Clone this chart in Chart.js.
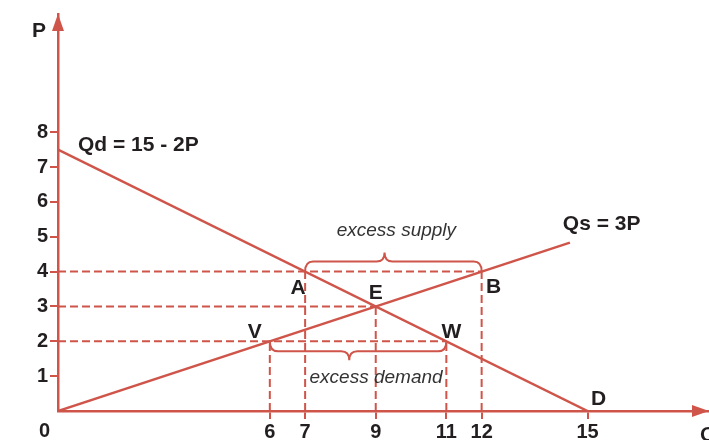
<!DOCTYPE html>
<html lang="en">
<head>
    <meta charset="UTF-8">
    <title>Supply and Demand</title>
    <script src="https://cdn.jsdelivr.net/npm/chart.js@4.4.1/dist/chart.umd.min.js"></script>
    <style>
        html, body {
            margin: 0;
            padding: 0;
            background: #fff;
        }
        #box {
            width: 709px;
            height: 440px;
        }
    </style>
</head>
<body>
    <div id="box"><canvas id="graphCanvas"></canvas></div>
    <script>
        // curves
        const demandQ = [0, 15];
        const demandP = [7.5, 0];
        const supplyQ = [0, 14.5];
        const supplyP = [0, 4.83];

        // dashed guides
        const hGuideP = [4, 3, 2];
        const hGuideQ = [12, 9, 11];
        const vGuideQ = [6, 7, 9, 11, 12];
        const vGuideP = [2, 4, 3, 2, 4];

        // point names
        const pointNames = ['A', 'B', 'E', 'V', 'W', 'D'];
        const pointQ = [7, 12, 9, 6, 11, 15];
        const pointP = [4, 4, 3, 2, 2, 0];

        // braces
        const braceText = ['excess supply', 'excess demand'];
        const braceFrom = [7, 6];
        const braceTo = [12, 11];
        const braceP = [4, 2];

        const xTicks = [6, 7, 9, 11, 12, 15];
        const yTicks = [1, 2, 3, 4, 5, 6, 7, 8];
        const demandLabel = 'Qd = 15 - 2P';
        const supplyLabel = 'Qs = 3P';

        const RED = '#cf554a';
        const INK = '#231f20';

        function pts(xs, ys) {
            return xs.map((x, i) => ({ x: x, y: ys[i] }));
        }

        const datasets = [];
        datasets.push({ data: pts(demandQ, demandP), borderColor: RED, borderWidth: 2.5 });
        datasets.push({ data: pts(supplyQ, supplyP), borderColor: RED, borderWidth: 2.5 });
        hGuideP.forEach((p, i) => {
            datasets.push({ data: [{ x: 0, y: p }, { x: hGuideQ[i], y: p }], borderColor: RED, borderWidth: 2, borderDash: [8, 4] });
        });
        vGuideQ.forEach((q, i) => {
            datasets.push({ data: [{ x: q, y: 0 }, { x: q, y: vGuideP[i] }], borderColor: RED, borderWidth: 2, borderDash: [8, 4] });
        });
        datasets.forEach(d => { d.showLine = true; d.pointRadius = 0; d.fill = false; });

        const labelOffsets = {
            A: [-7, 22], B: [12, 21], E: [0, -7], V: [-15, -3], W: [5, -3], D: [11, -6]
        };

        function brace(ctx, x1, x2, yBase, dir) {
            const yLine = yBase + dir * 10;
            const yTip = yLine + dir * 9;
            const xm = x1 + (x2 - x1) * 0.45;
            const r = 8;
            ctx.beginPath();
            ctx.moveTo(x1, yBase);
            ctx.quadraticCurveTo(x1, yLine, x1 + r, yLine);
            ctx.lineTo(xm - r, yLine);
            ctx.quadraticCurveTo(xm, yLine, xm, yTip);
            ctx.quadraticCurveTo(xm, yLine, xm + r, yLine);
            ctx.lineTo(x2 - r, yLine);
            ctx.quadraticCurveTo(x2, yLine, x2, yBase);
            ctx.stroke();
        }

        const extras = {
            id: 'extras',
            afterDraw(chart) {
                const ctx = chart.ctx;
                const xs = chart.scales.x, ys = chart.scales.y;
                const ox = xs.getPixelForValue(0), oy = ys.getPixelForValue(0);
                const top = chart.chartArea.top, right = chart.chartArea.right;
                ctx.save();

                // arrowheads
                ctx.fillStyle = RED;
                ctx.beginPath();
                ctx.moveTo(ox, top);
                ctx.lineTo(ox - 6, top + 17);
                ctx.lineTo(ox + 6, top + 17);
                ctx.closePath();
                ctx.fill();
                ctx.beginPath();
                ctx.moveTo(right, oy);
                ctx.lineTo(right - 17, oy - 6);
                ctx.lineTo(right - 17, oy + 6);
                ctx.closePath();
                ctx.fill();

                // braces
                ctx.strokeStyle = RED;
                ctx.lineWidth = 2;
                braceText.forEach((t, i) => {
                    const x1 = xs.getPixelForValue(braceFrom[i]);
                    const x2 = xs.getPixelForValue(braceTo[i]);
                    const yb = ys.getPixelForValue(braceP[i]);
                    const dir = i === 0 ? -1 : 1;
                    brace(ctx, x1, x2, yb, dir);
                    ctx.fillStyle = '#333';
                    ctx.font = 'italic 19px "Liberation Sans", Arial, sans-serif';
                    ctx.textAlign = 'center';
                    ctx.textBaseline = 'alphabetic';
                    const cx = (x1 + x2) / 2;
                    if (dir < 0) ctx.fillText(t, cx + 3, yb - 36);
                    else ctx.fillText(t, cx + 18, yb + 42);
                });

                // point names
                ctx.fillStyle = INK;
                ctx.font = 'bold 21px "Liberation Sans", Arial, sans-serif';
                ctx.textAlign = 'center';
                pointNames.forEach((n, i) => {
                    const off = labelOffsets[n];
                    ctx.fillText(n, xs.getPixelForValue(pointQ[i]) + off[0], ys.getPixelForValue(pointP[i]) + off[1]);
                });

                // curve labels and axis names
                ctx.textAlign = 'left';
                ctx.fillText(demandLabel, ox + 20, ys.getPixelForValue(8) + 19);
                ctx.fillText(supplyLabel, xs.getPixelForValue(14.3), ys.getPixelForValue(5.2));
                ctx.fillText('P', ox - 26, top + 23);
                ctx.fillText('Q', right - 9, oy + 30);
                ctx.font = 'bold 20px "Liberation Sans", Arial, sans-serif';
                ctx.fillText('0', ox - 19, oy + 26);
                ctx.restore();
            }
        };

        const tickFont = { family: '"Liberation Sans", Arial, sans-serif', size: 20, weight: 'bold' };

        new Chart(document.getElementById('graphCanvas'), {
            type: 'scatter',
            data: { datasets: datasets },
            options: {
                responsive: true,
                maintainAspectRatio: false,
                animation: false,
                events: [],
                layout: { padding: { top: 10, right: 0, left: 0, bottom: 0 } },
                plugins: { legend: { display: false }, tooltip: { enabled: false } },
                scales: {
                    x: {
                        type: 'linear',
                        min: 0,
                        max: 18.44,
                        afterFit(s) { s.height = 29; },
                        afterBuildTicks(s) { s.ticks = xTicks.map(v => ({ value: v })); },
                        border: { color: RED, width: 2.5 },
                        grid: { drawOnChartArea: false, color: RED, lineWidth: 2, tickLength: 8 },
                        ticks: { color: INK, font: tickFont, padding: 1, autoSkip: false, maxRotation: 0 }
                    },
                    y: {
                        type: 'linear',
                        min: 0,
                        max: 11.39,
                        afterFit(s) { s.width = 58; },
                        afterBuildTicks(s) { s.ticks = yTicks.map(v => ({ value: v })); },
                        border: { color: RED, width: 2.5 },
                        grid: { drawOnChartArea: false, color: RED, lineWidth: 2, tickLength: 8 },
                        ticks: { color: INK, font: tickFont, padding: 2, autoSkip: false }
                    }
                }
            },
            plugins: [extras]
        });
    </script>
</body>
</html>
